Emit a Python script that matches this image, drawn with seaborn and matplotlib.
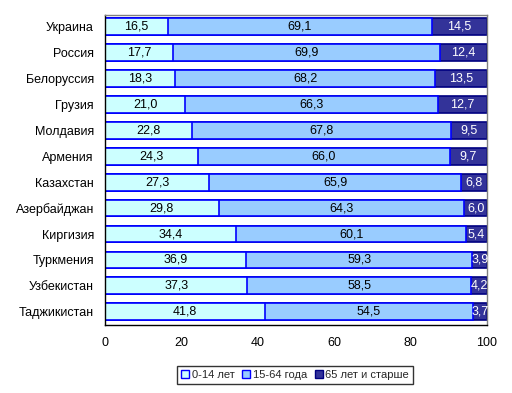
import matplotlib
matplotlib.use("Agg")
import matplotlib.pyplot as plt
import seaborn as sns
import pandas as pd
import numpy as np
from matplotlib.patches import Patch

countries = ["Украина", "Россия", "Белоруссия", "Грузия", "Молдавия", "Армения",
             "Казахстан", "Азербайджан", "Киргизия", "Туркмения", "Узбекистан", "Таджикистан"]
young = [16.5, 17.7, 18.3, 21.0, 22.8, 24.3, 27.3, 29.8, 34.4, 36.9, 37.3, 41.8]
middle = [69.1, 69.9, 68.2, 66.3, 67.8, 66.0, 65.9, 64.3, 60.1, 59.3, 58.5, 54.5]
old = [14.5, 12.4, 13.5, 12.7, 9.5, 9.7, 6.8, 6.0, 5.4, 3.9, 4.2, 3.7]
series_names = ["0-14 лет", "15-64 года", "65 лет и старше"]
xticks = [0, 20, 40, 60, 80, 100]

colors = ["#CCFFFF", "#99CCFF", "#333399"]
edges = ["#0000FF", "#0000FF", "#000080"]

sns.set_theme(style="white")
plt.rcParams['font.family'] = ['Liberation Sans', 'DejaVu Sans']

df = pd.DataFrame({"country": countries, "young": young, "middle": middle, "old": old})
df["c1"] = df["young"]
df["c2"] = df["young"] + df["middle"]
df["c3"] = np.minimum(df["c2"] + df["old"], 100)

fig = plt.figure(figsize=(5.12, 3.93), dpi=100)
ax = fig.add_axes([105/512, 1-325/393, (487-105)/512, (325-14.7)/393])

for col, fc, ec in [("c3", colors[2], edges[2]), ("c2", colors[1], edges[1]), ("c1", colors[0], edges[0])]:
    sns.barplot(data=df, x=col, y="country", orient="h", color=fc, edgecolor=ec,
                linewidth=1.2, width=0.645, saturation=1, ax=ax)

fs = 9
for i, r in df.iterrows():
    ax.text(r["young"]/2, i, f"{r['young']:.1f}".replace(".", ","), ha="center", va="center",
            fontsize=fs, color="black")
    ax.text(r["young"] + r["middle"]/2, i, f"{r['middle']:.1f}".replace(".", ","), ha="center",
            va="center", fontsize=fs, color="black")
    ax.text((r["c2"] + 100)/2, i, f"{r['old']:.1f}".replace(".", ","), ha="center", va="center",
            fontsize=fs, color="white")

ax.set_xlim(0, 100)
ax.set_ylim(11.51, -0.46)
ax.set_xticks(xticks)
ax.set_xticklabels([str(t) for t in xticks], fontsize=fs)
ax.tick_params(axis="x", length=0, pad=9, labelsize=fs, colors="black")
ax.tick_params(axis="y", length=0, pad=8, labelsize=fs, colors="black")
ax.set_xlabel("")
ax.set_ylabel("")
for s in ["left", "bottom"]:
    ax.spines[s].set_color("black")
    ax.spines[s].set_linewidth(1)
for s in ["top", "right"]:
    ax.spines[s].set_color("#808080")
    ax.spines[s].set_linewidth(1)

handles = [Patch(facecolor=c, edgecolor=e, linewidth=1) for c, e in zip(colors, ["#0000FF", "#0000FF", "#000080"])]
leg = fig.legend(handles, series_names, loc="center", bbox_to_anchor=(295/512, 1-375/393), ncol=3,
                 frameon=True, fontsize=8, handlelength=0.75, handleheight=0.75, handletextpad=0.2,
                 columnspacing=0.7, borderpad=0.35, fancybox=False)
leg.get_frame().set_edgecolor("black")
leg.get_frame().set_linewidth(1)

fig.savefig("out.png", dpi=100)
